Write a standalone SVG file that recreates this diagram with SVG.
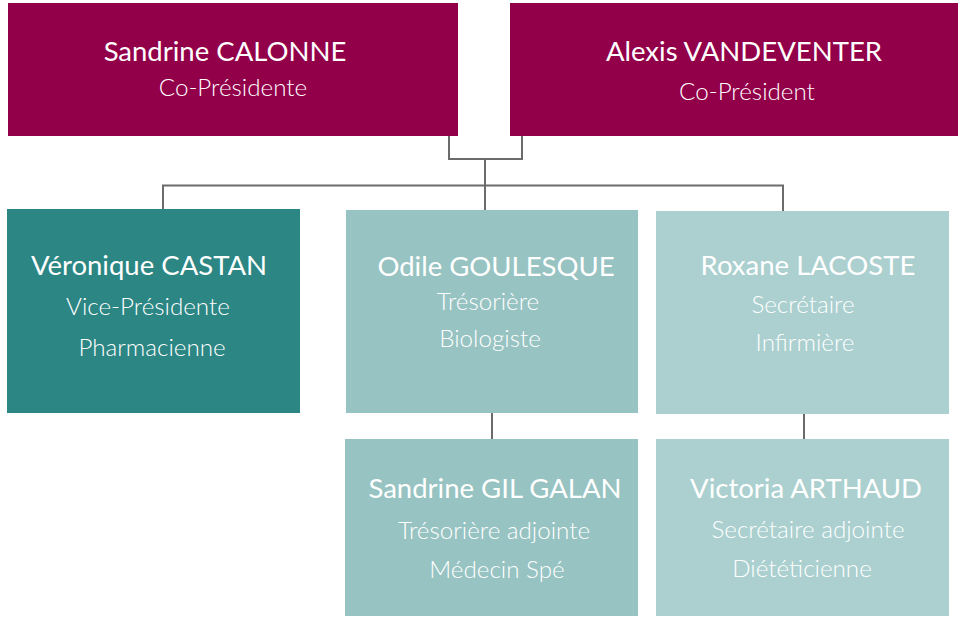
<svg xmlns="http://www.w3.org/2000/svg" width="970" height="626" viewBox="0 0 970 626">
<style>
.n{font-family:Lato,"Open Sans",sans-serif;font-size:27.5px;font-weight:400;fill:#fff;text-anchor:middle}
.s{font-family:Lato,"Open Sans",sans-serif;font-size:24.2px;font-weight:300;fill:#fff;text-anchor:middle}
.m{fill:#93004a}
.t{fill:#2b8684}
.l{fill:#97c3c2}
.k{fill:#abd0cf}
.c{stroke:#6b6b6b;stroke-width:2;fill:none}
</style>
<rect width="970" height="626" fill="#fff"/>
<g id="connectors">
<path class="c" d="M449 136V159H522V136M485 159V210M163 209V185.5H783V211M492 413V439M804 414V439"/>
</g>
<g id="calonne"><rect class="m" x="8" y="3" width="450" height="133"/>
<text class="n" x="225" y="61">Sandrine CALONNE</text>
<text class="s" x="233" y="96">Co-Présidente</text></g>
<g id="vandeventer"><rect class="m" x="510" y="3" width="448" height="133"/>
<text class="n" x="744" y="61">Alexis VANDEVENTER</text>
<text class="s" x="747" y="100">Co-Président</text></g>
<g id="castan"><rect class="t" x="7" y="209" width="293" height="204"/>
<text class="n" x="149" y="275">Véronique CASTAN</text>
<text class="s" x="148" y="315">Vice-Présidente</text>
<text class="s" x="152" y="356">Pharmacienne</text></g>
<g id="goulesque"><rect class="l" x="346" y="210" width="292" height="203"/>
<text class="n" x="496" y="276">Odile GOULESQUE</text>
<text class="s" x="488" y="310">Trésorière</text>
<text class="s" x="490" y="347">Biologiste</text></g>
<g id="lacoste"><rect class="k" x="656" y="211" width="293" height="203"/>
<text class="n" x="808" y="275">Roxane LACOSTE</text>
<text class="s" x="803" y="313">Secrétaire</text>
<text class="s" x="805" y="351">Infirmière</text></g>
<g id="gilgalan"><rect class="l" x="345" y="439" width="293" height="177"/>
<text class="n" x="495" y="498">Sandrine GIL GALAN</text>
<text class="s" x="494" y="539">Trésorière adjointe</text>
<text class="s" x="497" y="578">Médecin Spé</text></g>
<g id="arthaud"><rect class="k" x="656" y="439" width="293" height="177"/>
<text class="n" x="806" y="498">Victoria ARTHAUD</text>
<text class="s" x="808" y="538">Secrétaire adjointe</text>
<text class="s" x="802" y="577">Diététicienne</text></g>
</svg>
